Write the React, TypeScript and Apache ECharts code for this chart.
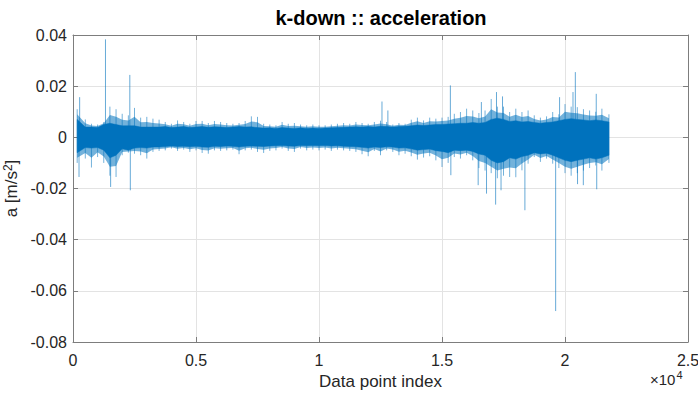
import { useEffect, useRef } from "react";
import * as echarts from "echarts";

// ---- text ----
const titleText = "k-down :: acceleration";
const xName = "Data point index";
const yNameRich = "a [m/s{sup|2}]";

// ---- ticks ----
const xTickValues = [0, 5000, 10000, 15000, 20000, 25000];
const xTickLabels = ["0", "0.5", "1", "1.5", "2", "2.5"];
const yTickValues = [-0.08, -0.06, -0.04, -0.02, 0, 0.02, 0.04];
const yTickLabels = ["-0.08", "-0.06", "-0.04", "-0.02", "0", "0.02", "0.04"];

// ---- signal envelope (units of 0.001 m/s^2) ----
// one bin every 250 samples; first bin starts where data starts, last ends at last sample
const binStep = 250;
const dataStart = 170;
const dataEnd = 21786;

const coreHi = [
  7, 4, 4, 3.8, 5, 5.5, 5, 4.5, 4.5, 4.5, 4, 4, 4, 4,
  4.2, 3.8, 4, 4.2, 3.8, 4, 4.2, 3.9, 4.1, 4, 3.8, 4, 4.2, 4, 4.1,
  3.8, 3.6, 3.7, 3.5, 3.8, 3.6, 3.5, 3.7, 3.5, 3.6, 3.5, 3.6, 3.7, 3.8,
  3.9, 4, 4.1, 4, 4.2, 4, 4.3, 4.2, 4, 4.2, 4.3, 4.5, 4.8, 4.6, 4.8,
  5, 5, 5.2, 5.3, 5.5, 5.5, 5.8, 5.5, 5.8, 7, 7.5, 7, 6.2, 6.5, 6,
  6.2, 5.8, 5.5, 5.8, 6, 6.5, 7, 7.3, 7, 6.8, 6.5, 6.8, 6.5, 6,
];
const coreLo = [
  -6, -4, -4.2, -4, -5, -8, -7, -4.5, -5, -4.2, -4, -4.2, -3.8, -3.8,
  -3.6, -3.4, -3.6, -3.5, -3.7, -3.5, -3.8, -3.9, -3.5, -3.6, -3.4, -3.5, -3.8, -3.5, -3.4,
  -3.5, -3.6, -3.4, -3.3, -3.2, -3.4, -3.5, -3.2, -3.3, -3.2, -3.3, -3.2, -3.4, -3.3,
  -3.5, -3.6, -3.7, -3.9, -4.2, -3.8, -4, -3.7, -3.8, -4.2, -4.1, -4.5, -5, -4.8, -4.6,
  -5.2, -5.5, -6, -5, -5.2, -5, -5.5, -6.5, -7, -9, -10, -9.5, -8, -8.5, -7.5,
  -7, -6, -6.5, -6.2, -7, -8, -9, -9.5, -9, -8.5, -8, -8.5, -8, -7,
];
const whiskerHi = [
  11, 7, 5.3, 5, 6, 12, 11, 9.2, 8.6, 11.5, 7.7, 8, 7.3, 6.9,
  6, 5.3, 6.6, 6, 5.3, 6.4, 6.4, 5.6, 6.4, 6, 5.6, 5.3, 5.6, 6.4, 8.2,
  8, 5.3, 5, 4.7, 6, 5.3, 5.6, 5, 4.7, 5, 4.7, 4.7, 5, 5.3,
  5.6, 5.3, 6, 5.6, 5.3, 6, 6.5, 6, 5, 5.6, 5.3, 6.9, 7.7, 6.6, 7.7,
  7.3, 7.7, 8, 9.2, 9.9, 11.2, 10.5, 9.5, 10.5, 15, 12, 12, 9.9, 11.2, 9.9,
  10.5, 8.6, 7.7, 8.2, 9.9, 9, 13, 12, 11.8, 11, 10.5, 10, 11.2, 9,
];
const whiskerLo = [
  -10, -8.3, -11.8, -7.7, -10, -15, -15.5, -7, -6, -6.4, -7, -8.3, -5.7, -5.3,
  -5.1, -4.4, -5.3, -4.8, -5.7, -5.1, -6.1, -6.4, -5.1, -5.3, -5.1, -4.8, -6.6, -5.1, -4.8,
  -5.7, -6.1, -5.3, -5.1, -4.4, -5.3, -5.7, -4.4, -5.1, -4.8, -5.1, -4.8, -5.3, -4.8,
  -5.1, -5.3, -5.7, -6.6, -7.4, -5.3, -7, -5.1, -5.7, -7, -6.4, -7.4, -8.7, -7.9, -7.4,
  -9, -11.6, -10, -7.7, -8.3, -7, -9, -12, -13, -14, -16, -15, -15.5, -15.6, -12.9,
  -10.3, -7.7, -9.6, -8.3, -10.3, -12, -14, -15, -14, -13, -12, -11, -13, -10,
];

// isolated large spikes: sample index and peak value (0.001 m/s^2)
const spikeIndex = [
  245, 270, 1320, 1530, 2310, 2330, 12560, 12800, 15340, 15360, 16470, 16600,
  16810, 17180, 17215, 17400, 17460, 18370, 19620, 19780, 20325, 20420, 20510,
  20745, 21270, 21290,
];
const spikeValue = [
  -15.5, 15.7, 38.3, -19.4, 24.4, -20.7, 14.0, 10.5, 20.3, -14.8, -18.7, 13.8,
  -22.0, -26.3, 17.7, -20.7, 16.0, -28.5, -67.9, 15.7, 17.7, 25.5, -18.3,
  -18.7, 17.0, -20.3,
];

const lineColor = "#0072BD";
const textColor = "#262626";
const axisColor = "#7d7d7d";
const gridColor = "#e3e3e3";
const fontFamily = "'Liberation Sans', Arial, Helvetica, sans-serif";

const binIndex = coreHi.map((_, i) =>
  i === 0 ? dataStart : i === coreHi.length - 1 ? dataEnd : binStep * (i + 1)
);

export default function App() {
  const ref = useRef<HTMLDivElement>(null);
  useEffect(() => {
    const chart = echarts.init(ref.current!, undefined, { renderer: "svg" });

    const vLine = (params: any, api: any, color: string) => {
      const a = api.coord([api.value(0), api.value(1)]);
      const b = api.coord([api.value(0), api.value(2)]);
      return {
        type: "line",
        shape: { x1: a[0], y1: a[1], x2: b[0], y2: b[1] },
        style: { stroke: color, lineWidth: 1 },
      };
    };

    const band = (api: any, hi: number[], lo: number[]) => {
      const pts: number[][] = [];
      for (let i = 0; i < binIndex.length; i++) pts.push(api.coord([binIndex[i], hi[i] / 1000]));
      for (let i = binIndex.length - 1; i >= 0; i--) pts.push(api.coord([binIndex[i], lo[i] / 1000]));
      return pts;
    };

    const haloHi = coreHi.map((c, i) => (c + whiskerHi[i]) / 2);
    const haloLo = coreLo.map((c, i) => (c + whiskerLo[i]) / 2);

    const axisLineCommon = { show: true, onZero: false, lineStyle: { color: axisColor, width: 1 } };
    const tickCommon = { show: true, inside: true, length: 5, lineStyle: { color: axisColor, width: 1 } };

    const option: any = {
      animation: false,
      backgroundColor: "#ffffff",
      grid: { left: 73, right: 10, top: 35, bottom: 52, containLabel: false, outerBoundsMode: "none" },
      xAxis: [
        {
          type: "value",
          min: 0,
          max: 25000,
          interval: 5000,
          position: "bottom",
          axisLine: axisLineCommon,
          axisTick: tickCommon,
          axisLabel: {
            color: textColor,
            fontSize: 16,
            fontFamily,
            margin: 10,
            formatter: (v: number) => {
              const k = xTickValues.indexOf(Math.round(v));
              return k >= 0 ? xTickLabels[k] : "";
            },
          },
          splitLine: { show: true, lineStyle: { color: gridColor, width: 1 } },
          name: xName,
          nameLocation: "middle",
          nameGap: 26,
          nameTextStyle: { color: textColor, fontSize: 17, fontFamily },
        },
        {
          type: "value",
          min: 0,
          max: 25000,
          interval: 5000,
          position: "top",
          axisLine: axisLineCommon,
          axisTick: tickCommon,
          axisLabel: { show: false },
          splitLine: { show: false },
        },
      ],
      yAxis: [
        {
          type: "value",
          min: -0.08,
          max: 0.04,
          interval: 0.02,
          position: "left",
          axisLine: axisLineCommon,
          axisTick: tickCommon,
          axisLabel: {
            color: textColor,
            fontSize: 16,
            fontFamily,
            margin: 6,
            formatter: (v: number) => {
              let best = 0;
              for (let i = 1; i < yTickValues.length; i++) {
                if (Math.abs(yTickValues[i] - v) < Math.abs(yTickValues[best] - v)) best = i;
              }
              return yTickLabels[best];
            },
          },
          splitLine: { show: true, lineStyle: { color: gridColor, width: 1 } },
          name: yNameRich,
          nameLocation: "middle",
          nameGap: 38,
          nameRotate: 90,
          nameTextStyle: {
            color: textColor,
            fontSize: 17,
            fontFamily,
            rich: {
              sup: {
                color: textColor,
                fontSize: 12,
                fontFamily,
                verticalAlign: "top",
                padding: [0, 0, 6, 0],
              },
            },
          },
        },
        {
          type: "value",
          min: -0.08,
          max: 0.04,
          interval: 0.02,
          position: "right",
          axisLine: axisLineCommon,
          axisTick: tickCommon,
          axisLabel: { show: false },
          splitLine: { show: false },
        },
      ],
      graphic: [
        {
          type: "text",
          x: 381,
          y: 18,
          style: {
            text: titleText,
            font: `bold 20px ${fontFamily}`,
            fill: "#000000",
            align: "center",
            verticalAlign: "middle",
            textAlign: "center",
            textVerticalAlign: "middle",
          },
        },
        {
          type: "text",
          x: 650,
          y: 387,
          style: {
            text: "{base|×10}{sup|4}",
            fill: textColor,
            align: "left",
            verticalAlign: "bottom",
            textAlign: "left",
            textVerticalAlign: "bottom",
            rich: {
              base: { fontSize: 15, fontFamily, color: textColor, verticalAlign: "bottom" },
              sup: {
                fontSize: 11,
                fontFamily,
                color: textColor,
                verticalAlign: "top",
                padding: [0, 0, 7, 1],
              },
            },
          },
        },
      ],
      series: [
        {
          type: "custom",
          name: "halo",
          silent: true,
          xAxisIndex: 0,
          yAxisIndex: 0,
          encode: { x: 0, y: 1 },
          data: [[binIndex[0], 0]],
          renderItem: (p: any, api: any) => ({
            type: "polygon",
            shape: { points: band(api, haloHi, haloLo) },
            style: { fill: "rgba(0,114,189,0.55)" },
          }),
        },
        {
          type: "custom",
          name: "spikes",
          silent: true,
          xAxisIndex: 0,
          yAxisIndex: 0,
          encode: { x: 0, y: [1, 2] },
          data: spikeIndex.map((x, i) => [x, 0, spikeValue[i] / 1000]),
          renderItem: (p: any, api: any) => vLine(p, api, "rgba(0,114,189,0.6)"),
        },
        {
          type: "custom",
          name: "whiskers",
          silent: true,
          xAxisIndex: 0,
          yAxisIndex: 0,
          encode: { x: 0, y: [1, 2] },
          data: binIndex.map((x, i) => [x, whiskerLo[i] / 1000, whiskerHi[i] / 1000]),
          renderItem: (p: any, api: any) => vLine(p, api, "rgba(0,114,189,0.55)"),
        },
        {
          type: "custom",
          name: "core",
          silent: true,
          xAxisIndex: 0,
          yAxisIndex: 0,
          encode: { x: 0, y: 1 },
          data: [[binIndex[0], 0]],
          renderItem: (p: any, api: any) => ({
            type: "polygon",
            shape: { points: band(api, coreHi, coreLo) },
            style: { fill: lineColor, stroke: lineColor, lineWidth: 0.5 },
          }),
        },
      ],
    };

    chart.setOption(option);
    return () => chart.dispose();
  }, []);

  return (
    <div
      ref={ref}
      style={{ position: "fixed", left: 0, top: 0, width: 698, height: 394, background: "#fff" }}
    />
  );
}
